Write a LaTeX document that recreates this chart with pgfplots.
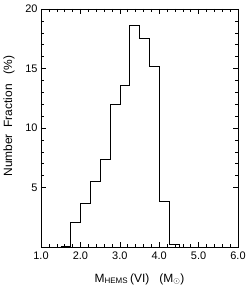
\documentclass[border=0pt]{standalone}
\usepackage{pgfplots}
\pgfplotsset{compat=1.18}
\usepackage{fontspec}
\setmainfont{Liberation Sans}
\begin{document}
\begin{tikzpicture}
\begin{axis}[
  scale only axis,
  width=197bp, height=238bp,
  xmin=1, xmax=6, ymin=0, ymax=20,
  xtick={1,2,3,4,5,6},
  xticklabels={1.0,2.0,3.0,4.0,5.0,6.0},
  ytick={5,10,15,20},
  minor x tick num=4,
  minor y tick num=4,
  tick align=inside,
  major tick length=5bp,
  minor tick length=2.7bp,
  tick style={black, line width=0.5pt},
  axis line style={line width=0.6pt},
  /pgf/number format/assume math mode=true,
  tick label style={font=\fontsize{11}{13}\selectfont},
  xticklabel style={yshift=-1bp},
  label style={font=\fontsize{12}{14}\selectfont},
  xlabel={M\textsubscript{HEMS}\,(VI)\ \ \ (M\textsubscript{$\odot$})},
  ylabel={Number\ \ Fraction\ \ \ (\%)},
  xlabel style={at={(axis description cs:0.5,0)}, anchor=north, yshift=-23bp},
  ylabel style={at={(axis description cs:0,0.55)}, anchor=south, yshift=23bp},
]
\addplot[const plot, black, line width=0.6pt] coordinates {
  (1.5,0.1) (1.75,2.1) (2.0,3.7) (2.25,5.5) (2.5,7.4) (2.75,12.0)
  (3.0,13.6) (3.25,18.6) (3.5,17.5) (3.75,15.2) (4.0,3.8) (4.25,0.2) (4.5,0)
};
\end{axis}
\pgfresetboundingbox
\path (current axis.south west) +(-41bp,-46bp) (current axis.north east) +(11bp,9bp);
\end{tikzpicture}
\end{document}
